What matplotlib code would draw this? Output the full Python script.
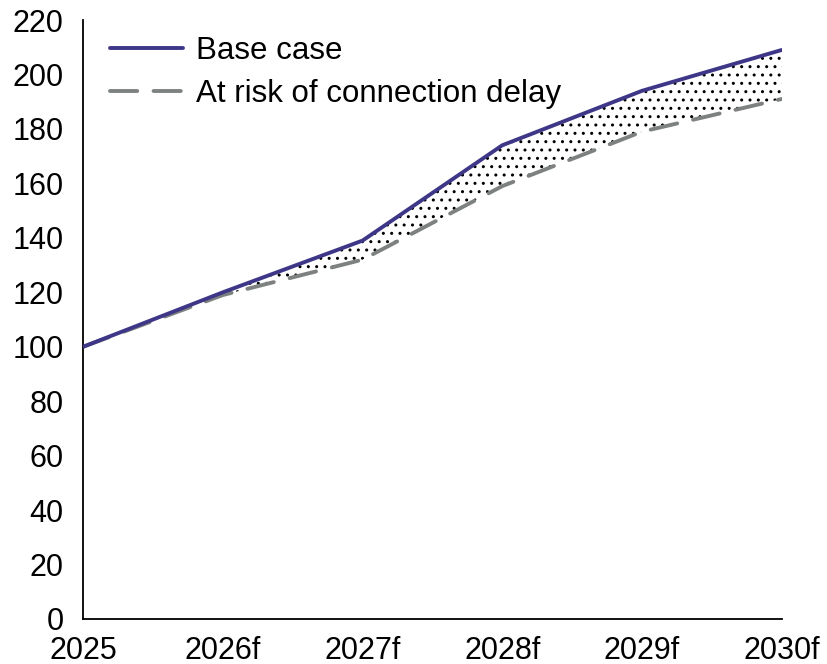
import matplotlib
matplotlib.use("Agg")
import matplotlib.pyplot as plt

plt.rcParams["font.family"] = ["Liberation Sans", "DejaVu Sans"]
plt.rcParams["hatch.linewidth"] = 1.0

years = ["2025", "2026f", "2027f", "2028f", "2029f", "2030f"]
base_case = [100, 120, 139, 174, 194, 209]
at_risk = [100, 119, 132, 159, 179, 191]

BASE_COL = "#3E3787"
RISK_COL = "#7D8280"

fig = plt.figure(figsize=(8.28, 6.64), dpi=100)
ax = fig.add_axes([0.1005, 0.0678, 0.8435, 0.902])

x = list(range(len(years)))

# dotted band between the two scenarios
ax.fill_between(x, at_risk, base_case, facecolor="none", edgecolor="black",
                hatch="..", linewidth=0, zorder=1)

ax.plot(x, base_case, color=BASE_COL, lw=2.8, solid_capstyle="round",
        label="Base case", zorder=3)
ax.plot(x, at_risk, color=RISK_COL, lw=2.8, dashes=(7.0, 4.2),
        dash_capstyle="round", label="At risk of connection delay", zorder=2)

ax.set_xlim(0, len(years) - 1)
ax.set_ylim(0, 220)
ax.set_yticks(range(0, 221, 20))
ax.set_xticks(x)
ax.set_xticklabels(years)

ax.tick_params(axis="both", length=0, labelsize=22)
ax.tick_params(axis="y", pad=14)
ax.tick_params(axis="x", pad=12)

for s in ("top", "right"):
    ax.spines[s].set_visible(False)
for s in ("left", "bottom"):
    ax.spines[s].set_linewidth(1.3)
    ax.spines[s].set_color("black")

ax.legend(loc="upper left", bbox_to_anchor=(0.02, 0.995), frameon=False,
          fontsize=22.5, handlelength=2.35, handletextpad=0.42,
          labelspacing=0.42, borderaxespad=0)

fig.savefig("out.png", dpi=100, facecolor="white")
